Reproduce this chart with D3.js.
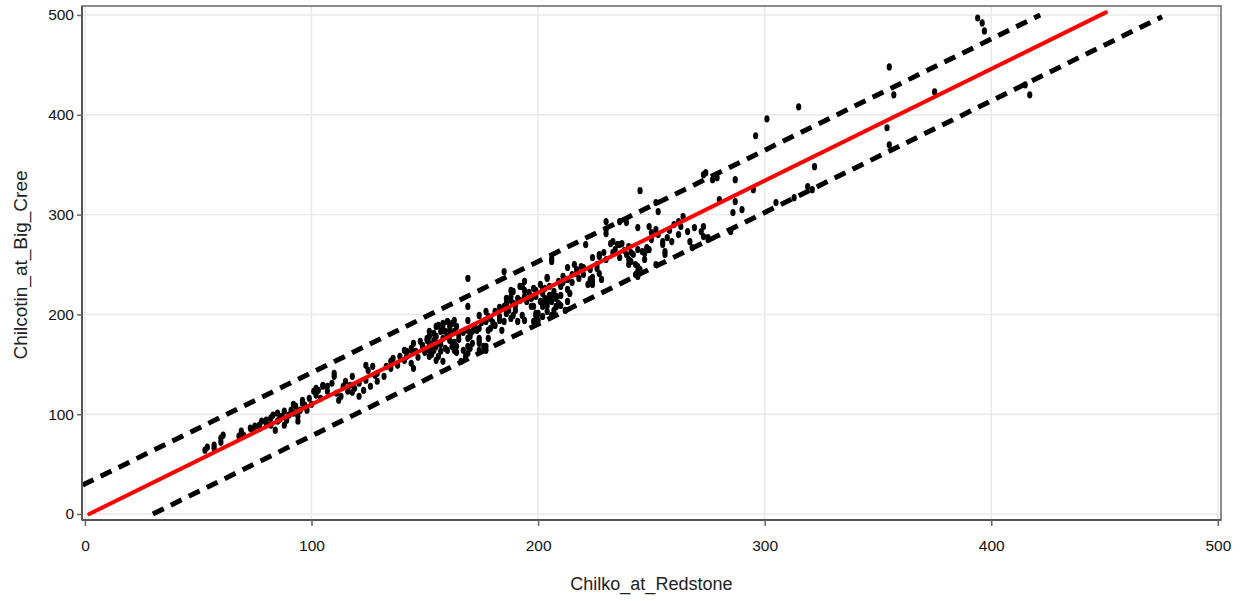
<!DOCTYPE html>
<html>
<head>
<meta charset="utf-8">
<script src="https://cdn.jsdelivr.net/npm/d3@7/dist/d3.min.js"></script>
<style>
  html, body { margin: 0; padding: 0; background: #fff; }
  svg { display: block; }
  text { font-family: "Liberation Sans", Arial, sans-serif; }
</style>
</head>
<body>
<svg id="chart" width="1241" height="601"></svg>
<script>
// ---- Data ----
const xTicks = [0, 100, 200, 300, 400, 500];
const yTicks = [0, 100, 200, 300, 400, 500];
const xTitle = "Chilko_at_Redstone";
const yTitle = "Chilcotin_at_Big_Cree";

// observations [Chilko_at_Redstone, Chilcotin_at_Big_Cree]
const observations = [
  [53,64],[54,67],[57,66],[57,69],[60,76],[60,72],[61,79],[69,83],[70,79],[68,78],[73,86],[75,88],[74,84],[77,89],[78,93],[80,94],[77,86],[80,91],[82,96],[82,89],[83,99],[85,93],[85,101],[84,84],[87,98],[88,103],[89,94],[90,99],[91,104],[88,89],[92,101],[93,108],[94,98],[95,104],[96,111],[94,93],[97,109],[98,104],[96,114],[99,116],[101,123],[102,126],[102,119],[103,124],[104,116],[105,128],[105,129],[107,123],[107,128],[109,131],[110,141],[110,138],[111,121],[112,114],[113,118],[114,128],[116,123],[117,129],[118,138],[119,126],[121,131],[121,118],[123,124],[124,134],[125,144],[126,128],[128,139],[129,133],[124,149],[127,148],
  [129,141],[132,138],[135,146],[138,149],[141,154],[142,158],[144,164],[146,163],[149,168],[144,151],[145,146],[152,158],[154,164],[152,183],[133,148],[135,153],[136,156],[139,158],[141,164],[142,163],[144,166],[145,171],[148,173],[149,169],[151,174],[152,178],[154,181],[155,188],[158,184],[158,191],[153,166],[155,171],[160,193],[158,189],[161,188],[159,183],[160,178],[156,189],[157,183],[155,178],[158,176],[154,174],[161,174],[162,168],[160,164],[163,164],[164,168],[151,176],[152,171],[152,164],[149,168],[155,168],[157,163],[156,158],[155,154],[158,153],[167,164],[168,158],[166,153],[163,194],[164,188],[163,183],[165,179],[162,191],[161,184],[169,236],[169,208],[169,194],[170,181],[169,176],[171,183],[169,168],[171,171],[174,171],[174,176],[170,166],[174,164],[177,168],[169,184],[170,178],[173,184],[169,161],[164,162],
  [174,186],[174,174],[176,168],[177,164],[177,203],[178,198],[177,193],[174,199],[179,186],[178,176],[179,196],[181,189],[183,198],[178,184],[185,243],[188,224],[188,218],[189,211],[191,216],[193,228],[194,218],[186,201],[188,196],[185,193],[183,194],[184,184],[189,199],[191,193],[193,199],[194,194],[197,218],[198,208],[199,201],[200,194],[202,198],[202,211],[205,218],[206,213],[208,208],[204,203],[206,256],[204,236],[186,216],[185,208],[192,214],[189,223],[188,214],[190,209],[187,204],[192,228],[194,233],[194,224],[199,224],[199,218],[197,216],[197,208],[201,213],[200,201],[198,193],[199,199],[207,223],[205,219],[208,216],[204,213],[208,208],[202,221],[213,213],[212,204],[210,209],[206,253],
  [204,237],[205,228],[206,219],[208,218],[209,211],[202,225],[203,216],[204,209],[202,208],[207,204],[206,199],[210,228],[211,232],[213,225],[214,221],[215,232],[211,238],[213,235],[210,230],[209,233],[213,247],[216,250],[217,245],[220,247],[223,245],[224,237],[223,232],[224,230],[222,230],[223,235],[219,248],[217,241],[221,270],[227,260],[230,281],[232,271],[235,270],[237,271],[227,241],[228,235],[224,233],[227,258],[230,255],[224,257],[226,250],[230,293],[230,285],[236,293],[239,292],[244,287],[249,288],[252,285],[250,275],[262,293],[263,288],[269,287],[272,283],[273,278],[275,277],[266,283],[267,273],[268,267],[257,277],[259,273],[255,270],[256,263],[248,267],[249,265],[246,263],[240,268],[241,262],[242,260],[233,273],[234,265],[236,270],[240,255],[243,250],[244,242],[245,245],[244,238],[252,250],[239,260],[241,253],[240,250],[244,265],[247,261],[248,265],[247,255],[255,273],[256,260],[244,248],[244,243],[243,240],[245,324],[252,312],[253,303],[273,340],[277,335],
  [181,203],[183,207],[186,211],[190,204],[195,213],[196,222],[198,226],[201,230],[203,226],[210,219],[215,240],[218,236],[220,240],[226,246],[229,262],[233,262],[236,257],[238,264],[250,282],[253,280],[258,284],[262,280],[264,298],[260,290],[147,157],[150,162],[153,160],[157,170],[159,166],[163,172],[165,175],[167,182],[172,188],[175,192],[180,192],[115,133],[118,122],[100,110],[92,110],[86,95],
  [274,342],[279,337],[280,315],[273,288],[275,275],[285,283],[287,335],[287,313],[286,302],[290,305],[295,325],[305,312],[313,317],[319,328],[321,325],[322,348],[296,379],[301,396],[315,408],[354,387],[355,370],[355,448],[357,420],[375,423],[394,497],[396,492],[397,484],[415,430],[417,420]
];

// fitted line and prediction limits (end points)
const fitLine   = [[1.9, 0], [450.6, 502.6]];
const upperBand = [[-1.0, 29], [421.6, 500]];
const lowerBand = [[30, 0], [475.4, 498.3]];

// ---- Layout ----
const svg = d3.select("#chart");
const W = 1241, H = 601;
const m = { left: 82, top: 6, right: 20, bottom: 81 };
const iw = W - m.left - m.right, ih = H - m.top - m.bottom;

const x = d3.scaleLinear().domain([-1.3, 501.4]).range([0, iw]);
const y = d3.scaleLinear().domain([-6, 509]).range([ih, 0]);

const g = svg.append("g").attr("transform", `translate(${m.left},${m.top})`);

// grid
g.append("g").selectAll("line").data(xTicks).join("line")
  .attr("x1", d => x(d)).attr("x2", d => x(d)).attr("y1", 0).attr("y2", ih)
  .attr("stroke", "#e9e9e9").attr("stroke-width", 1.5);
g.append("g").selectAll("line").data(yTicks).join("line")
  .attr("y1", d => y(d)).attr("y2", d => y(d)).attr("x1", 0).attr("x2", iw)
  .attr("stroke", "#e9e9e9").attr("stroke-width", 1.5);

// clip
svg.append("defs").append("clipPath").attr("id", "clip")
  .append("rect").attr("width", iw).attr("height", ih);
const plot = g.append("g").attr("clip-path", "url(#clip)");

const line = d3.line().x(d => x(d[0])).y(d => y(d[1]));

// points
plot.append("g").selectAll("ellipse").data(observations).join("ellipse")
  .attr("cx", d => x(d[0])).attr("cy", d => y(d[1]))
  .attr("rx", 2.6).attr("ry", 3.6).attr("fill", "#000");

// bands
[upperBand, lowerBand].forEach(b => {
  plot.append("path").datum(b).attr("d", line)
    .attr("fill", "none").attr("stroke", "#000").attr("stroke-width", 5)
    .attr("stroke-dasharray", "12,8");
});
// fit
plot.append("path").datum(fitLine).attr("d", line)
  .attr("fill", "none").attr("stroke", "#f00").attr("stroke-width", 4)
  .attr("stroke-linecap", "round");

// frame
g.append("rect").attr("width", iw).attr("height", ih)
  .attr("fill", "none").attr("stroke", "#666").attr("stroke-width", 1.5);
g.append("line").attr("x1", 0).attr("x2", 0).attr("y1", 0).attr("y2", ih)
  .attr("stroke", "#555").attr("stroke-width", 2);
g.append("line").attr("x1", 0).attr("x2", iw).attr("y1", ih).attr("y2", ih)
  .attr("stroke", "#555").attr("stroke-width", 2);

// axes
const xAxis = g.append("g").attr("transform", `translate(0,${ih})`)
  .call(d3.axisBottom(x).tickValues(xTicks).tickSize(6).tickPadding(14).tickFormat(d3.format("d")));
const yAxis = g.append("g")
  .call(d3.axisLeft(y).tickValues(yTicks).tickSize(5).tickPadding(3).tickFormat(d3.format("d")));
[xAxis, yAxis].forEach(a => {
  a.select(".domain").remove();
  a.selectAll(".tick line").attr("stroke", "#666").attr("stroke-width", 1.5);
  a.selectAll(".tick text").attr("fill", "#111").style("font-size", "15.5px")
    .style("font-family", "'Liberation Sans', Arial, sans-serif");
});

// titles
svg.append("text").attr("x", m.left + x(250)).attr("y", 590)
  .attr("text-anchor", "middle").attr("fill", "#222")
  .style("font-size", "18px").text(xTitle);
svg.append("text").attr("transform", `translate(27,${265}) rotate(-90)`)
  .attr("text-anchor", "middle").attr("fill", "#222")
  .style("font-size", "19px").text(yTitle);
</script>
</body>
</html>
